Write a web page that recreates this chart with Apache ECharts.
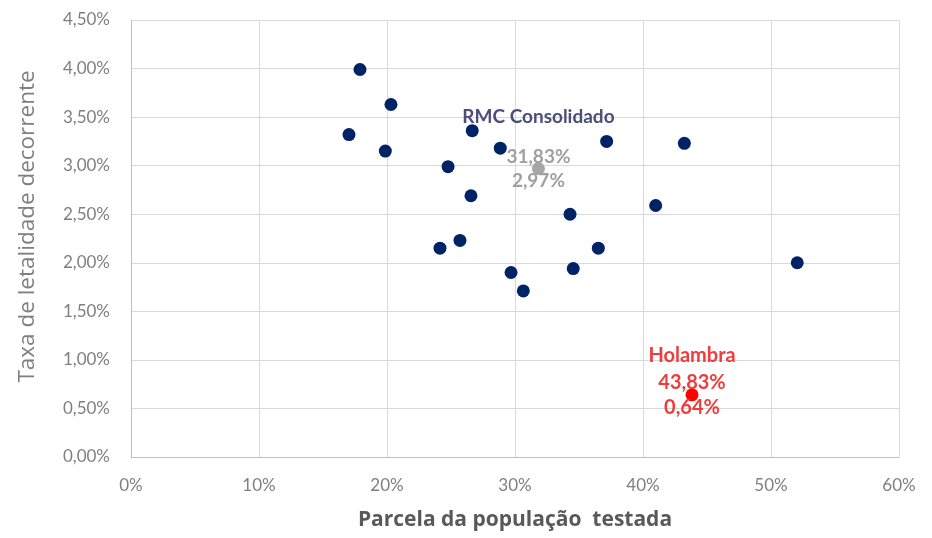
<!DOCTYPE html>
<html>
<head>
<meta charset="utf-8">
<script src="https://cdn.jsdelivr.net/npm/echarts@6/dist/echarts.min.js"></script>
<style>html,body{margin:0;padding:0;background:#fff}#c{width:932px;height:538px}</style>
</head>
<body>
<div id="c"></div>
<script>
// Municipalities: x = share of population tested (%), y = lethality rate (%)
const cityX = [17.89, 20.31, 17.03, 19.87, 26.66, 28.85, 24.77, 26.56, 37.16, 43.23, 40.99, 34.30, 25.70, 24.14, 36.51, 34.55, 29.69, 30.65, 52.05];
const cityY = [3.99, 3.63, 3.32, 3.15, 3.36, 3.18, 2.99, 2.69, 3.25, 3.23, 2.59, 2.50, 2.23, 2.15, 2.15, 1.94, 1.90, 1.71, 2.00];
const rmcName = 'RMC Consolidado';
const rmcPoint = [31.83, 2.97];
const holName = 'Holambra';
const holPoint = [43.83, 0.64];
const xTicks = [0, 10, 20, 30, 40, 50, 60];
const yTicks = [0, 0.5, 1, 1.5, 2, 2.5, 3, 3.5, 4, 4.5];
const xTitle = 'Parcela da população  testada';
const yTitle = 'Taxa de letalidade decorrente';

const fmt = v => v.toFixed(2).replace('.', ',') + '%';
const font = 'Lato, "Open Sans", sans-serif';
const wideFont = '"Open Sans", Lato, sans-serif';

const chart = echarts.init(document.getElementById('c'), null, {renderer: 'canvas'});
chart.setOption({
  animation: false,
  textStyle: {fontFamily: font},
  grid: {left: 131, right: 33, top: 20, bottom: 81},
  xAxis: {
    type: 'value', min: xTicks[0], max: xTicks[xTicks.length - 1], interval: 10,
    name: xTitle, nameLocation: 'middle', nameGap: 53,
    nameTextStyle: {color: '#595959', fontSize: 21, fontWeight: 'bold', fontFamily: wideFont},
    axisLine: {show: true, lineStyle: {color: '#bfbfbf'}},
    axisTick: {show: false},
    splitLine: {show: true, lineStyle: {color: '#d9d9d9', width: 1}},
    axisLabel: {color: '#7f7f7f', fontSize: 17, margin: 20, formatter: v => v + '%'}
  },
  yAxis: {
    type: 'value', min: yTicks[0], max: yTicks[yTicks.length - 1], interval: 0.5,
    name: yTitle, nameLocation: 'middle', nameGap: 92,
    nameTextStyle: {color: '#7f7f7f', fontSize: 22.5, fontFamily: wideFont, padding: [0, 0, 0, 24]},
    axisLine: {show: true, lineStyle: {color: '#bfbfbf'}},
    axisTick: {show: false},
    splitLine: {show: true, lineStyle: {color: '#d9d9d9', width: 1}},
    axisLabel: {color: '#7f7f7f', fontSize: 17, margin: 21, formatter: v => fmt(v)}
  },
  series: [
    {
      type: 'scatter', symbolSize: 13,
      itemStyle: {color: '#002366', opacity: 1},
      data: cityX.map((x, i) => [x, cityY[i]])
    },
    {
      type: 'scatter', symbolSize: 13, z: 3,
      itemStyle: {color: '#a6a6a6', opacity: 1},
      data: [rmcPoint],
      label: {show: true, position: 'inside', color: '#a0a0a0', fontSize: 19, fontWeight: 'bold', lineHeight: 24,
        formatter: p => fmt(p.value[0]) + '\n' + fmt(p.value[1])}
    },
    {
      type: 'scatter', symbolSize: 0, z: 4,
      itemStyle: {opacity: 1},
      data: [rmcPoint],
      label: {show: true, position: 'top', distance: 42, color: '#4d4d7a', fontSize: 19, fontWeight: 'bold',
        formatter: () => rmcName}
    },
    {
      type: 'scatter', symbolSize: 13, z: 3,
      itemStyle: {color: '#ff0000', opacity: 1},
      data: [holPoint],
      label: {show: true, position: 'inside', color: '#f03c3c', fontSize: 20, fontWeight: 'bold', lineHeight: 25,
        formatter: p => fmt(p.value[0]) + '\n' + fmt(p.value[1])}
    },
    {
      type: 'scatter', symbolSize: 0, z: 4,
      itemStyle: {opacity: 1},
      data: [holPoint],
      label: {show: true, position: 'top', distance: 29, color: '#f03c3c', fontSize: 20, fontWeight: 'bold',
        formatter: () => holName}
    }
  ]
});
</script>
</body>
</html>
